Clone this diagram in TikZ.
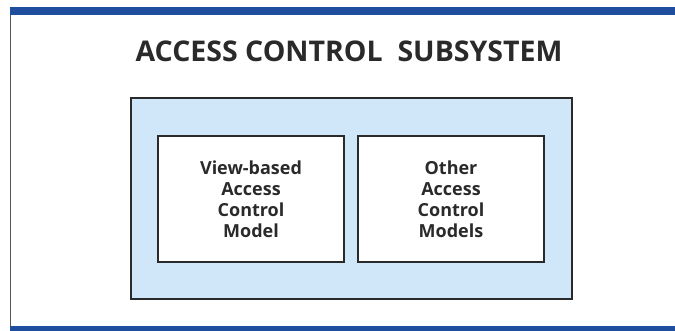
\documentclass[tikz,border=0pt]{standalone}
\usepackage{fontspec}
\setmainfont{Open Sans}
\definecolor{barblue}{HTML}{1F4E9E}
\definecolor{lightblue}{HTML}{CFE7F8}
\definecolor{ink}{HTML}{2A2A2A}
\begin{document}
\begin{tikzpicture}[x=1pt,y=-1pt,
  bar/.style={fill=barblue,draw=none},
  outerbox/.style={draw=ink,line width=1.6pt,fill=lightblue},
  modelbox/.style={draw=ink,line width=1.6pt,fill=white,minimum width=186pt,minimum height=126pt,inner sep=0pt,align=center,font=\fontsize{18}{21}\selectfont\bfseries,text=ink},
  titletext/.style={font=\fontsize{28.5}{32}\selectfont\bfseries,text=ink,anchor=base}]
\useasboundingbox (0,0) rectangle (675,331);
\fill[white] (0,0) rectangle (675,331);
\fill[bar] (10,7) rectangle (675,15);
\fill[bar] (10,326) rectangle (675,331);
\draw[draw=ink!80,line width=1pt] (10,15) -- (10,326);
\node[titletext] (title) at (349,62) {ACCESS CONTROL\ \ SUBSYSTEM};
\draw[outerbox] (131,98) rectangle (572,299);
\node[modelbox] (view) at (251,199) {View-based\\Access\\Control\\Model};
\node[modelbox] (other) at (451,199) {Other\\Access\\Control\\Models};
\end{tikzpicture}
\end{document}
